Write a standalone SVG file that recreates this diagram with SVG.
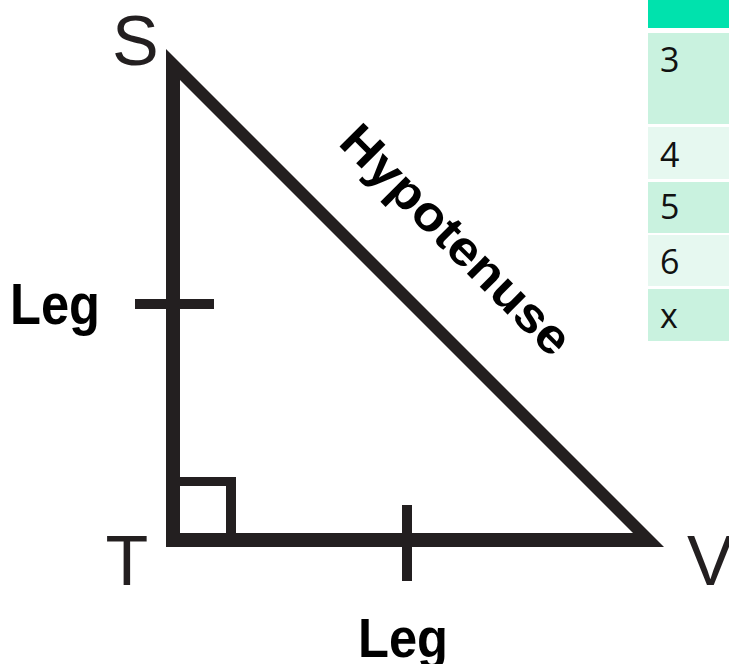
<svg xmlns="http://www.w3.org/2000/svg" width="729" height="664" viewBox="0 0 729 664">
<style>
.ink{fill:#231f20}
.vlabel{font-family:"Liberation Sans",Arial,sans-serif;font-size:70px;fill:#231f20}
.blabel{font-family:"Liberation Sans",Arial,sans-serif;font-weight:bold;fill:#000}
.cell{font-family:"Open Sans","Noto Sans",sans-serif;font-size:34px;fill:#111}
.mint{fill:#c9f2df}
.pale{fill:#e6f8f0}
</style>
<rect width="729" height="664" fill="#fff"/>
<g id="triangle">
<path class="ink" fill-rule="evenodd" d="M166,49 L166,547 L664,547 Z M180,80 L180,533 L633,533 Z"/>
<path class="ink" d="M180,477 H236 V533 H226 V486 H180 Z"/>
<rect class="ink" x="135" y="299" width="79" height="10"/>
<rect class="ink" x="402" y="505" width="10" height="76"/>
</g>
<g id="vertex-labels">
<text class="vlabel" x="112" y="65">S</text>
<text class="vlabel" x="105.5" y="585">T</text>
<text class="vlabel" x="687" y="585">V</text>
</g>
<g id="side-labels">
<text class="blabel" x="10" y="324" font-size="58" textLength="90" lengthAdjust="spacingAndGlyphs">Leg</text>
<text class="blabel" x="358" y="657" font-size="56" textLength="90" lengthAdjust="spacingAndGlyphs">Leg</text>
<text class="blabel" font-size="49" transform="translate(337,144) rotate(45)" textLength="304" lengthAdjust="spacingAndGlyphs">Hypotenuse</text>
</g>
<g id="table">
<rect x="648" y="0" width="81" height="28" fill="#00e2ad"/>
<rect class="mint" x="648" y="33" width="81" height="91"/>
<rect class="pale" x="648" y="127" width="81" height="52"/>
<rect class="mint" x="648" y="182" width="81" height="51"/>
<rect class="pale" x="648" y="235" width="81" height="51"/>
<rect class="mint" x="648" y="289" width="81" height="52"/>
<text class="cell" x="660" y="72">3</text>
<text class="cell" x="660" y="167">4</text>
<text class="cell" x="660" y="219">5</text>
<text class="cell" x="660" y="274">6</text>
<text class="cell" x="660" y="328">x</text>
</g>
</svg>
